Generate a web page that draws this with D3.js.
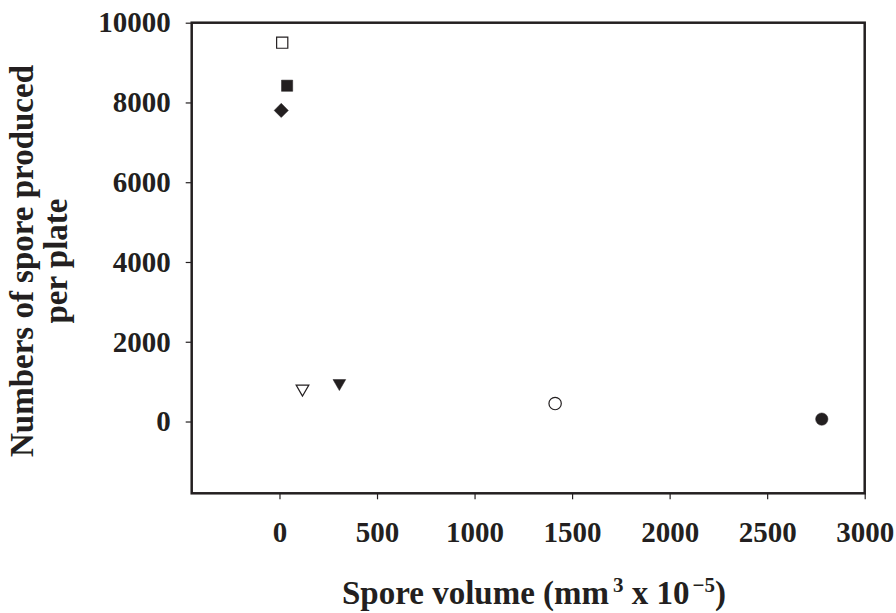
<!DOCTYPE html>
<html>
<head>
<meta charset="utf-8">
<script src="https://cdn.jsdelivr.net/npm/d3@7"></script>
<style>
  html, body { margin: 0; padding: 0; background: #fff; }
  svg { display: block; }
  text { font-family: "Liberation Serif", "Times New Roman", serif; font-weight: bold; fill: #231f20; }
</style>
</head>
<body>
<script>
// ---- data ----
const sporeVolume = [14, 39, 9, 118, 307, 1413, 2780];
const sporeCount  = [9500, 8420, 7800, 820, 960, 450, 60];
const markerShape = ["square", "square", "diamond", "triangleDown", "triangleDown", "circle", "circle"];
const markerFilled = [false, true, true, false, true, false, true];
const xTicks = [0, 500, 1000, 1500, 2000, 2500, 3000];
const yTicks = [0, 2000, 4000, 6000, 8000, 10000];
const xDomain = [-450, 3000];
const yDomain = [-1800, 10000];

(function () {
const W = 896, H = 613;
const mLeft = 191.7, mRight = 864.7, mTop = 22.7, mBottom = 493.3;
const ink = "#231f20";

const svg = d3.select("body").append("svg").attr("width", W).attr("height", H);

const x = d3.scaleLinear().domain(xDomain).range([mLeft, mRight]);
const y = d3.scaleLinear().domain(yDomain).range([mBottom, mTop]);

// frame
svg.append("rect")
  .attr("x", x(xDomain[0])).attr("y", y(yDomain[1]))
  .attr("width", x(xDomain[1]) - x(xDomain[0]))
  .attr("height", y(yDomain[0]) - y(yDomain[1]))
  .attr("fill", "none").attr("stroke", ink).attr("stroke-width", 2.5);

// axes
const xAxis = svg.append("g").attr("transform", `translate(0,${mBottom})`)
  .call(d3.axisBottom(x).tickValues(xTicks).tickSize(6).tickPadding(22).tickFormat(d3.format("d")));
const yAxis = svg.append("g").attr("transform", `translate(${mLeft},0)`)
  .call(d3.axisLeft(y).tickValues(yTicks).tickSize(6).tickPadding(15).tickFormat(d3.format("d")));
[xAxis, yAxis].forEach(g => {
  g.select(".domain").remove();
  g.selectAll(".tick line").attr("stroke", ink).attr("stroke-width", 1.2);
  g.selectAll(".tick text").attr("font-size", 29).attr("fill", ink)
    .attr("font-family", "Liberation Serif, serif").attr("font-weight", "bold");
});

// markers
const symbolFor = s => s === "square" ? d3.symbolSquare : s === "diamond" ? d3.symbolSquare
  : s === "triangleDown" ? d3.symbolTriangle : d3.symbolCircle;
const sizeFor = s => s === "square" ? 125 : s === "diamond" ? 100 : s === "triangleDown" ? 70 : 120;
const rotFor = s => s === "diamond" ? 45 : s === "triangleDown" ? 180 : 0;

svg.append("g").selectAll("path").data(sporeVolume.map((v, i) => i)).join("path")
  .attr("d", i => d3.symbol().type(symbolFor(markerShape[i])).size(sizeFor(markerShape[i]))())
  .attr("transform", i => `translate(${x(sporeVolume[i])},${y(sporeCount[i])}) rotate(${rotFor(markerShape[i])})`)
  .attr("fill", i => markerFilled[i] ? ink : "#fff")
  .attr("stroke", ink)
  .attr("stroke-width", i => markerFilled[i] ? 0.5 : 1.2);

// x axis title
const xt = svg.append("text").attr("x", 342).attr("y", 604).attr("text-anchor", "start").attr("font-size", 33);
xt.append("tspan").text("Spore volume (mm");
xt.append("tspan").attr("dx", 4).attr("dy", -12).attr("font-size", 21).text("3");
xt.append("tspan").attr("dy", 12).text(" x 10");
xt.append("tspan").attr("dx", 3).attr("dy", -12).attr("font-size", 21).text("\u22125");
xt.append("tspan").attr("dy", 12).text(")");

// y axis title
const yt = svg.append("text").attr("transform", "translate(0,261) rotate(-90)")
  .attr("text-anchor", "middle").attr("font-size", 33);
yt.append("tspan").attr("x", 0).attr("y", 33).text("Numbers of spore produced");
yt.append("tspan").attr("x", 0).attr("y", 67).text("per plate");
})();
</script>
</body>
</html>
